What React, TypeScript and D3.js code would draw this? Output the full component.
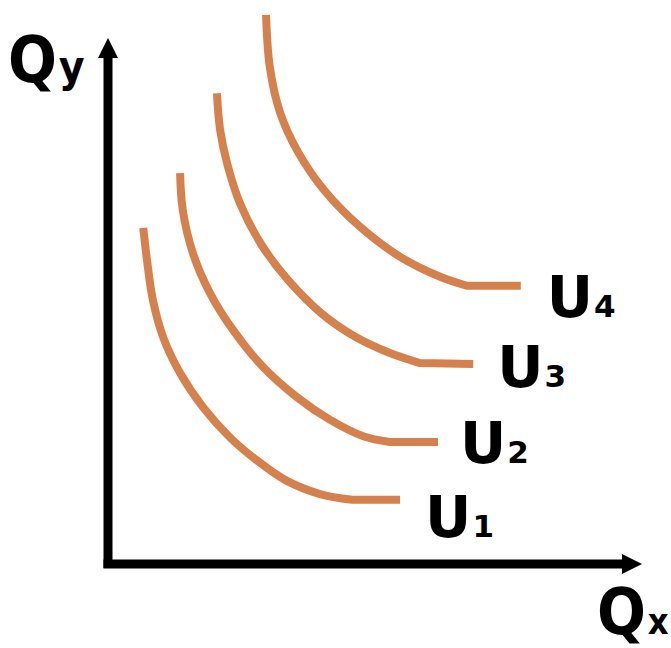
import React from "react";
import * as d3 from "d3";

// Indifference curves U1..U4 in the (Qx, Qy) plane, each as [qx, qy] points.
// The last point of each list ends the short flat tail of the curve.
const curveNames = ["U", "U", "U", "U"];
const curveIndex = ["1", "2", "3", "4"];

const u1: [number, number][] = [
  [0.66, 6.39], [0.73, 5.78], [0.84, 5.02], [1.03, 4.32], [1.35, 3.63], [1.78, 2.98],
  [2.28, 2.41], [2.75, 2.0], [3.35, 1.58], [3.97, 1.33], [4.57, 1.22], [5.47, 1.22],
];
const u2: [number, number][] = [
  [1.35, 7.43], [1.4, 6.73], [1.59, 5.91], [1.91, 5.15], [2.34, 4.45], [2.9, 3.75],
  [3.54, 3.17], [4.16, 2.74], [4.78, 2.43], [5.28, 2.32], [6.18, 2.32],
];
const u3: [number, number][] = [
  [2.04, 8.95], [2.1, 8.25], [2.23, 7.62], [2.47, 6.86], [2.88, 6.06], [3.37, 5.4],
  [3.99, 4.77], [4.63, 4.32], [5.28, 4.01], [5.84, 3.82], [6.84, 3.8],
];
const u4: [number, number][] = [
  [2.96, 10.44], [3.03, 9.45], [3.22, 8.59], [3.56, 7.83], [4.06, 7.09], [4.72, 6.41],
  [5.47, 5.84], [6.22, 5.46], [6.72, 5.29], [7.73, 5.29],
];
const curves = [u1, u2, u3, u4];

const axisLabels = { x: ["Q", "x"], y: ["Q", "y"] };

const W = 671;
const H = 648;
const ORIGIN = { x: 108, y: 564 };
const X_END = 642;
const Y_END = 38;

// label placement relative to each curve's right end, in pixels
const labelOffsets: [number, number][] = [
  [25, 37],
  [22, 21],
  [24, 23],
  [26, 31],
];

const CURVE_COLOR = "#D5814D";
const FONT = "'DejaVu Sans', sans-serif";

export default function App() {
  const x = d3.scaleLinear().domain([0, 10]).range([ORIGIN.x, ORIGIN.x + 534]);
  const y = d3.scaleLinear().domain([0, 10]).range([ORIGIN.y, ORIGIN.y - 526]);

  const smooth = d3
    .line<[number, number]>()
    .x((d) => x(d[0]))
    .y((d) => y(d[1]))
    .curve(d3.curveCatmullRom.alpha(0.5));

  // smooth bend, then a straight flat tail to the last point
  const curvePath = (c: [number, number][]) => {
    const last = c[c.length - 1];
    return `${smooth(c.slice(0, -1))}L${x(last[0])},${y(last[1])}`;
  };

  const arrow = 10;
  const head = 20;

  return (
    <svg width={W} height={H} style={{ position: "absolute", left: 0, top: 0, background: "#fff" }}>
      <rect width={W} height={H} fill="#fff" />
      {/* axes */}
      <line x1={ORIGIN.x} y1={ORIGIN.y + 4} x2={ORIGIN.x} y2={Y_END + head - 1} stroke="#000" strokeWidth={9} />
      <line x1={ORIGIN.x - 4.5} y1={ORIGIN.y} x2={X_END - head + 1} y2={ORIGIN.y} stroke="#000" strokeWidth={9} />
      <path
        d={`M${ORIGIN.x},${Y_END} L${ORIGIN.x - arrow},${Y_END + head} L${ORIGIN.x + arrow},${Y_END + head} Z`}
        fill="#000"
      />
      <path
        d={`M${X_END},${ORIGIN.y} L${X_END - head},${ORIGIN.y - arrow} L${X_END - head},${ORIGIN.y + arrow} Z`}
        fill="#000"
      />

      {/* indifference curves */}
      {curves.map((c, i) => (
        <path key={i} d={curvePath(c)} fill="none" stroke={CURVE_COLOR} strokeWidth={8} />
      ))}

      {/* curve labels */}
      {curves.map((c, i) => {
        const end = c[c.length - 1];
        const lx = x(end[0]) + labelOffsets[i][0];
        const ly = y(end[1]) + labelOffsets[i][1];
        return (
          <text key={i} x={lx} y={ly} fontFamily={FONT} fontWeight="bold" fill="#000">
            <tspan fontSize={57}>{curveNames[i]}</tspan>
            <tspan fontSize={31} dx={1}>{curveIndex[i]}</tspan>
          </text>
        );
      })}

      {/* axis titles */}
      <g transform="translate(8,82) scale(0.9,1)">
        <text x={0} y={0} fontFamily={FONT} fontWeight="bold" fill="#000">
          <tspan fontSize={64}>{axisLabels.y[0]}</tspan>
          <tspan fontSize={44} dx={2}>{axisLabels.y[1]}</tspan>
        </text>
      </g>
      <g transform="translate(597,634) scale(0.9,1)">
        <text x={0} y={0} fontFamily={FONT} fontWeight="bold" fill="#000">
          <tspan fontSize={64}>{axisLabels.x[0]}</tspan>
          <tspan fontSize={36} dx={2}>{axisLabels.x[1]}</tspan>
        </text>
      </g>
    </svg>
  );
}
